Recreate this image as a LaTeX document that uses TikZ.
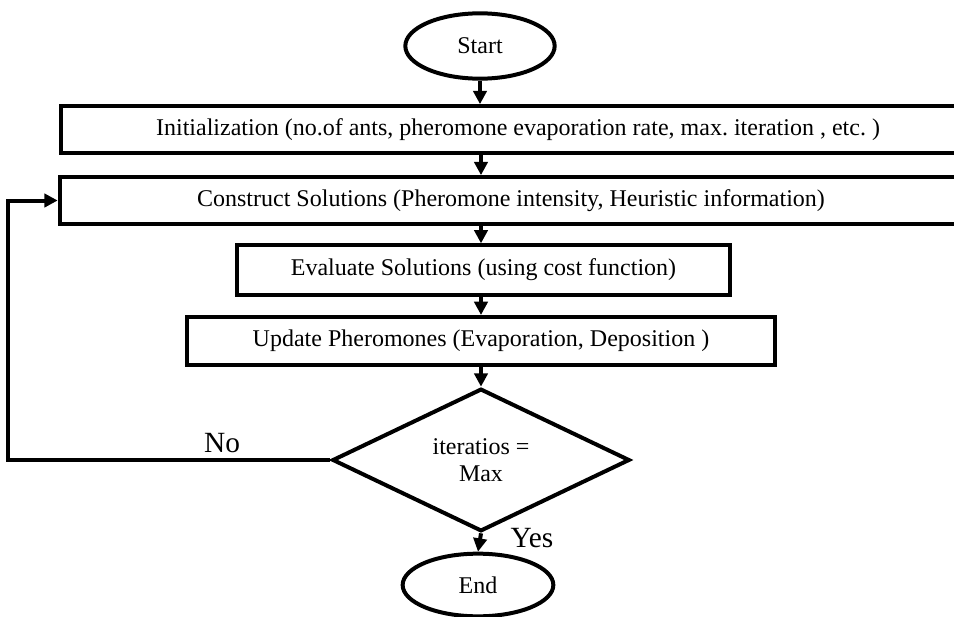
\documentclass[tikz,border=0pt]{standalone}
\usepackage{fontspec}
\setmainfont{Liberation Serif}
\frenchspacing
\usetikzlibrary{arrows.meta,shapes.geometric}
\tikzset{
  box/.style={draw=black,line width=3pt,rectangle,inner sep=0pt,font=\fontsize{18}{21}\selectfont},
  term/.style={draw=black,line width=3pt,ellipse,inner sep=0pt,font=\fontsize{18}{21}\selectfont},
  test/.style={draw=black,line width=3pt,diamond,inner sep=0pt,align=center,font=\fontsize{18}{20}\selectfont},
  arrow/.style={-{Triangle[length=10pt,width=10pt]},line width=3pt,draw=black},
  lbl/.style={font=\fontsize{22}{26}\selectfont}
}
\begin{document}
\begin{tikzpicture}[x=0.75pt,y=-0.75pt]
  \useasboundingbox (0,0) rectangle (954,617);
  % terminals
  \node[term,minimum width=112pt,minimum height=49pt] (start) at (480,46) {Start};
  \node[term,minimum width=113pt,minimum height=47pt] (end) at (478,585) {End};
  % process boxes
  \node[box,minimum width=685pt,minimum height=35pt] (init) at (518,129.5)
    {Initialization (no.of ants, pheromone evaporation rate, max. iteration , etc. )};
  \node[box,minimum width=677pt,minimum height=35pt] (cons) at (511,200.5)
    {Construct Solutions (Pheromone intensity, Heuristic information)};
  \node[box,minimum width=370pt,minimum height=37pt] (eval) at (483.5,270)
    {Evaluate Solutions (using cost function)};
  \node[box,minimum width=441pt,minimum height=36pt] (upd) at (481,341)
    {Update Pheromones (Evaporation, Deposition )};
  % decision
  \node[test,minimum width=223pt,minimum height=107pt] (dec) at (481,460)
    {iteratios =\\ Max};
  \coordinate (back) at (8,460);
  % flow
  \draw[arrow] (start.south) -- (start.south |- init.north);
  \draw[arrow] (init.south -| dec) -- (cons.north -| dec);
  \draw[arrow] (cons.south -| dec) -- (eval.north -| dec);
  \draw[arrow] (eval.south -| dec) -- (upd.north -| dec);
  \draw[arrow] (upd.south -| dec) -- (dec.north);
  \draw[arrow] (dec.south) -- (end.north);
  \draw[arrow] (dec.west) -- (back) |- (cons.west);
  \node[lbl] (no) at (222,443) {No};
  \node[lbl] (yes) at (532,538) {Yes};
\end{tikzpicture}
\end{document}
